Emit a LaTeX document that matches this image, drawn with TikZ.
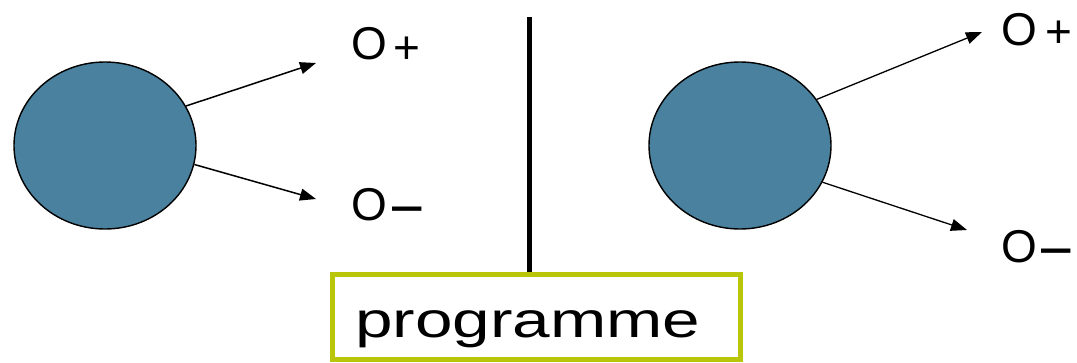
\documentclass[tikz,border=0pt]{standalone}
\usepackage{fontspec}
\setmainfont{Liberation Sans}
\usetikzlibrary{shapes.geometric,arrows.meta}
\definecolor{ballblue}{RGB}{73,129,158}
\definecolor{boxgreen}{RGB}{184,197,8}
\newcommand{\minussign}{\raisebox{-5pt}{\scalebox{1.15}[1.4]{–}}}
\tikzset{
  ball/.style={ellipse, draw=black, line width=1.4pt, fill=ballblue,
    minimum width=182pt, minimum height=167pt, inner sep=0pt},
  outarrow/.style={line width=1.5pt, -{Triangle[length=16pt,width=12pt]}},
  pole/.style={inner sep=0pt, anchor=base west,
    font=\fontsize{46}{50}\selectfont},
  progbox/.style={rectangle, draw=boxgreen, line width=5pt,
    minimum width=408pt, minimum height=85pt, inner sep=0pt},
  divider/.style={line width=5pt}
}
\begin{document}
\begin{tikzpicture}[x=1pt,y=-1pt]
  \useasboundingbox (0,0) rectangle (1077,362);

  % left neuron and its two outputs
  \node[ball] (L) at (105,145.5) {};
  \coordinate (Lp) at (316,63);
  \coordinate (Lm) at (316,199);
  \draw[outarrow] (L.26.6) -- (Lp);
  \draw[outarrow] (L.-12.4) -- (Lm);
  \node[pole] (Lplus)  at (351,59)  {O\kern7pt\raisebox{-4pt}{+}};
  \node[pole] (Lminus) at (351,220) {O\kern6pt\minussign};

  % right neuron and its two outputs
  \node[ball] (R) at (740,145.5) {};
  \coordinate (Rp) at (982,32);
  \coordinate (Rm) at (967,230);
  \draw[outarrow, line width=1.3pt] (R.31.7) -- (Rp);
  \draw[outarrow, line width=1.3pt] (R.-24.6) -- (Rm);
  \node[pole] (Rplus)  at (1001,45)  {O\kern9pt\raisebox{-2pt}{+}};
  \node[pole] (Rminus) at (1001,262) {O\kern5pt\minussign};

  % programme box and the divider above it
  \node[progbox] (prog) at (536.5,317) {};
  \node[inner sep=0pt, anchor=base west, font=\fontsize{50}{54}\selectfont]
    (progtext) at (355,337) {\scalebox{1.35}[1]{programme}};
  \coordinate (divtop) at (529,17);
  \draw[divider] (divtop) -- (divtop |- prog.north);
\end{tikzpicture}
\end{document}
